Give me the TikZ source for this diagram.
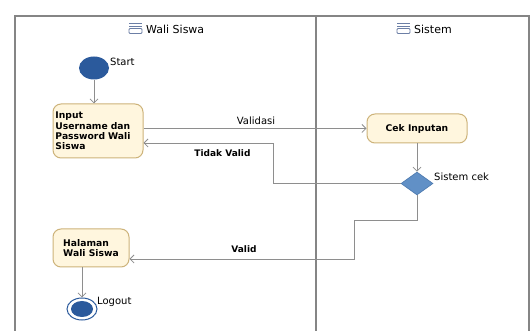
\documentclass[tikz,border=0pt]{standalone}
\usepackage{fontspec}
\setmainfont{DejaVu Sans}
\usetikzlibrary{shapes.geometric,arrows.meta}
\definecolor{boxfill}{HTML}{FFF6DE}
\definecolor{boxdraw}{HTML}{CDB37A}
\definecolor{startblue}{HTML}{2B5A9C}
\definecolor{diafill}{HTML}{6190C6}
\definecolor{diadraw}{HTML}{4C79AE}
\definecolor{linegray}{HTML}{8E8E8E}
\definecolor{framegray}{HTML}{858585}
\definecolor{icongray}{HTML}{6C7FA6}
\begin{document}
\begin{tikzpicture}[x=1pt,y=-1pt,
  action/.style={draw=boxdraw, fill=boxfill, rounded corners=8pt, line width=1pt, inner sep=2pt,
    font=\fontsize{9.2}{10.4}\selectfont\bfseries},
  flow/.style={draw=linegray, line width=0.8pt, -{Straight Barb[length=4pt,width=8pt]}},
  lbl/.style={font=\fontsize{10}{12}\selectfont, inner sep=0pt},
  blbl/.style={font=\fontsize{9}{11}\selectfont\bfseries, inner sep=0pt},
  hdr/.style={font=\fontsize{11}{13}\selectfont, inner sep=0pt},
  frame/.style={draw=framegray, line width=1.2pt}
]
\useasboundingbox (0,0) rectangle (531,331);
\fill[white] (0,0) rectangle (531,331);
% swimlane frame
\draw[frame] (15,336) -- (15,16) -- (529,16) -- (529,336);
\draw[frame] (316,16) -- (316,336);
% headers with icons
\foreach \ix in {129,397}{
  \draw[icongray, line width=0.8pt] (\ix,23) -- ++(13,0);
  \draw[icongray, line width=0.8pt] (\ix,26) -- ++(13,0);
  \draw[icongray, line width=0.8pt, rounded corners=1pt] (\ix,28.5) rectangle ++(13,5);
}
\node[hdr, anchor=west] (h1) at (146,29) {Wali Siswa};
\node[hdr, anchor=west] (h2) at (414,29) {Sistem};
% nodes
\node[ellipse, fill=startblue, minimum width=30pt, minimum height=23pt, inner sep=0pt] (start) at (94,68) {};
\node[lbl, anchor=west] (startl) at (110,62) {Start};
\node[action, minimum width=90pt, minimum height=54pt, text width=85pt, align=left] (input) at (98,131)
  {Input\\Username dan\\Password Wali\\Siswa};
\node[action, minimum width=100pt, minimum height=29pt, align=center] (cek) at (417,128.5) {Cek Inputan};
\node[diamond, fill=diafill, draw=diadraw, line width=0.6pt, minimum width=32pt, minimum height=23pt, inner sep=0pt, aspect=1.4] (dia) at (417,183.5) {};
\node[lbl, anchor=west] (dial) at (434,177) {Sistem cek};
\node[action, minimum width=76pt, minimum height=38pt, align=left] (hal) at (91,248) {Halaman\\Wali Siswa};
\node[ellipse, draw=startblue, line width=1pt, fill=white, minimum width=30pt, minimum height=22pt, inner sep=0pt] (end) at (82,309) {};
\node[ellipse, fill=startblue, minimum width=22pt, minimum height=16pt, inner sep=0pt] (endin) at (82,309) {};
\node[lbl, anchor=west] (endl) at (97,302) {Logout};
% connectors
\draw[flow] (start.south) -- (start.south |- input.north);
\draw[flow] (input.east |- cek.west) -- (cek.west);
\node[lbl] (vall) at (256,121) {Validasi};
\draw[flow] (cek.south) -- (dia.north);
\coordinate (tv) at (273,143);
\draw[flow] (dia.west) -| (tv) -- (input.east |- tv);
\node[blbl] (tvl) at (222.5,153.5) {Tidak Valid};
\coordinate (v1) at (354,220);
\coordinate (v2) at (354,259);
\draw[flow] (dia.south) |- (v1) -- (v2) -- (hal.east |- v2);
\node[blbl] (vl) at (244,249.5) {Valid};
\draw[flow] (end.north |- hal.south) -- (end.north);
\end{tikzpicture}
\end{document}
